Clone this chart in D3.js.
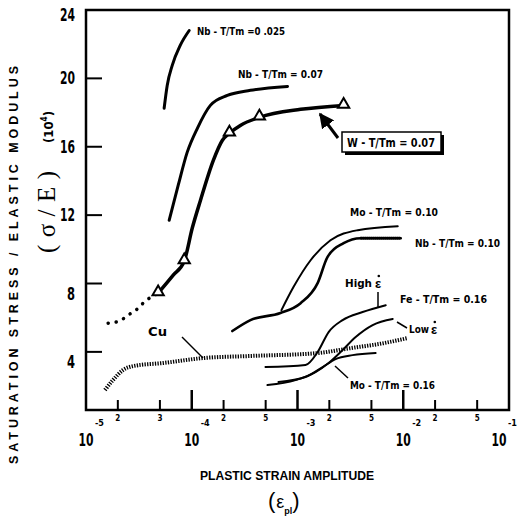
<!DOCTYPE html>
<html><head><meta charset="utf-8">
<script src="https://cdn.jsdelivr.net/npm/d3@7"></script>
<style>body{margin:0;background:#fff} svg{display:block}</style>
</head><body>
<svg id="c" width="517" height="521"></svg>
<script>
// ---- data (x = plastic strain amplitude, y = sigma/E in 1e-4) ----
const nb025 = [[5.48e-5,18.25],[5.86e-5,19.59],[6.54e-5,20.76],[7.78e-5,21.93],[9.46e-5,22.8]];
const nb007 = [[6.12e-5,11.7],[7.45e-5,13.75],[9.05e-5,15.67],[1.13e-4,17.08],[1.5e-4,18.42],[2.17e-4,19.0],[3.59e-4,19.3],[8.04e-4,19.53]];
const wDotted = [[1.62e-5,5.68],[2.06e-5,5.8],[2.5e-5,6.15],[3.04e-5,6.5],[3.55e-5,6.91],[4.81e-5,7.44]];
const w007 = [[4.81e-5,7.44],[6.68e-5,8.49],[8.49e-5,9.31],[1.01e-4,11.23],[1.21e-4,12.87],[1.6e-4,15.2],[1.95e-4,16.38],[2.27e-4,16.79],[2.88e-4,17.25],[4.36e-4,17.72],[1.07e-3,18.19],[2.73e-3,18.42]];
const wMarkers = [[4.81e-5,7.44],[8.49e-5,9.31],[2.27e-4,16.79],[4.36e-4,17.72],[2.73e-3,18.42]];
const mo010 = [[7.05e-4,6.44],[9.16e-4,7.79],[1.33e-3,9.36],[2.05e-3,10.53],[3.71e-3,11.12],[8.87e-3,11.35]];
const nb010 = [[2.42e-4,5.22],[3.59e-4,5.86],[6.9e-4,6.27],[1.07e-3,6.85],[1.55e-3,8.02],[1.92e-3,9.54],[2.73e-3,10.36],[3.95e-3,10.65],[9.47e-3,10.65]];
const feHigh = [[4.98e-4,3.11],[1.19e-3,3.23],[1.55e-3,3.99],[1.97e-3,5.16],[2.67e-3,5.86],[4.13e-3,6.33],[6.83e-3,6.73]];
const feLow = [[5.2e-4,2.06],[9.57e-4,2.35],[1.48e-3,2.82],[1.97e-3,3.35],[2.67e-3,4.11],[3.55e-3,4.87],[5.14e-3,5.57],[7.95e-3,5.92]];
const mo016 = [[6.61e-4,2.24],[1.19e-3,2.53],[1.73e-3,3.11],[2.29e-3,3.58],[3.32e-3,3.81],[5.48e-3,3.93]];
const cu = [[1.51e-5,1.77],[1.8e-5,2.35],[2.24e-5,2.94],[2.79e-5,3.17],[5.37e-5,3.35],[1.29e-4,3.64],[3.59e-4,3.76],[1.55e-3,3.93],[3.18e-3,4.22],[6.53e-3,4.51],[1.1e-2,4.81]];
const yTicks = [4, 8, 12, 16, 20];
const yTickLabels = ["4","8","12","16","20","24"];
const yLabelValues = [4, 8, 12, 16, 20, 24];
const xDecades = [1e-5, 1e-4, 1e-3, 1e-2, 1e-1];
const xDecadeExp = ["-5","-4","-3","-2","-1"];
const xMinor = [2e-5, 5e-5, 2e-4, 5e-4, 2e-3, 5e-3, 2e-2, 5e-2];
const xMinorLabels = ["2","3","2","5","2","5","2","5"];

const svg = d3.select("#c");
const FONT = "'Liberation Sans Narrow','Arial Narrow','DejaVu Sans Condensed','Liberation Sans',sans-serif";
const SANS = "'Liberation Sans',Arial,sans-serif";
const x = d3.scaleLog().domain([1e-5, 1e-1]).range([86, 509]);
const y = d3.scaleLinear().domain([0.6, 24]).range([410, 10]);
const line = d3.line().x(d => x(d[0])).y(d => y(d[1])).curve(d3.curveMonotoneX);

// frame
svg.append("rect").attr("x", x.range()[0]).attr("y", y.range()[1])
  .attr("width", x.range()[1]-x.range()[0]).attr("height", y.range()[0]-y.range()[1])
  .attr("fill","none").attr("stroke","#000").attr("stroke-width",2.5);

// y ticks
svg.selectAll(".yt").data(yTicks).enter().append("line")
  .attr("x1", x.range()[0]).attr("x2", x.range()[0]+16)
  .attr("y1", d=>y(d)).attr("y2", d=>y(d)).attr("stroke","#000").attr("stroke-width",2);
svg.selectAll(".yl").data(yLabelValues).enter().append("text")
  .attr("x", 75).attr("y", d => y(d) + (d < 10 ? 16 : 6) + (d===24 ? 5 : 0))
  .attr("text-anchor","end").attr("font-family",FONT).attr("font-weight","bold")
  .attr("font-size",18).text((d,i)=>yTickLabels[i])
  .attr("textLength", (d,i)=> yTickLabels[i].length===2 ? 15 : 8).attr("lengthAdjust","spacingAndGlyphs");

// x ticks
svg.selectAll(".xM").data(xDecades.slice(1,4)).enter().append("line")
  .attr("x1", d=>x(d)).attr("x2", d=>x(d)).attr("y1", y.range()[0]).attr("y2", y.range()[0]-20)
  .attr("stroke","#000").attr("stroke-width",2.5);
svg.selectAll(".xm").data(xMinor).enter().append("line")
  .attr("x1", d=>x(d)).attr("x2", d=>x(d)).attr("y1", y.range()[0]).attr("y2", y.range()[0]-10)
  .attr("stroke","#000").attr("stroke-width",2);
svg.selectAll(".xml").data(xMinor).enter().append("text")
  .attr("x", d=>x(d)).attr("y", y.range()[0]+11).attr("text-anchor","middle")
  .attr("font-family",FONT).attr("font-weight","bold").attr("font-size",8)
  .text((d,i)=>xMinorLabels[i]);
svg.selectAll(".xd").data(xDecades).enter().append("text")
  .attr("x", (d,i)=> Math.min(x(d), 499)).attr("y", y.range()[0]+36).attr("text-anchor","middle")
  .attr("font-family",FONT).attr("font-weight","bold").attr("font-size",18)
  .attr("textLength",15).attr("lengthAdjust","spacingAndGlyphs").text("10");
svg.selectAll(".xe").data(xDecades).enter().append("text")
  .attr("x", (d,i)=> Math.min(x(d), 499)+9).attr("y", y.range()[0]+16)
  .attr("font-family",FONT).attr("font-weight","bold").attr("font-size",9)
  .text((d,i)=>xDecadeExp[i]);

// axis titles
svg.append("text").attr("transform","translate(18,265) rotate(-90)")
  .attr("text-anchor","middle").attr("font-family",SANS)
  .attr("font-weight","bold").attr("font-size",12.5).attr("textLength",398).attr("lengthAdjust","spacing")
  .text("SATURATION STRESS / ELASTIC MODULUS");
svg.append("text").attr("transform","translate(55,212) rotate(-90)")
  .attr("text-anchor","middle").attr("font-family","'Liberation Serif','DejaVu Serif',serif")
  .attr("font-size",25).attr("textLength",82).attr("lengthAdjust","spacing")
  .text("(σ/E)");
const t104 = svg.append("text").attr("transform","translate(53,127) rotate(-90)")
  .attr("text-anchor","middle").attr("font-family",FONT).attr("font-weight","bold").attr("font-size",13);
t104.append("tspan").text("(10");
t104.append("tspan").text("4").attr("font-size",8).attr("dy",-6);
t104.append("tspan").text(")").attr("dy",6);

svg.append("text").attr("x",287).attr("y",480).attr("text-anchor","middle")
  .attr("font-family",SANS).attr("font-weight","bold").attr("font-size",12)
  .attr("textLength",174).attr("lengthAdjust","spacingAndGlyphs").text("PLASTIC STRAIN AMPLITUDE");
const ep = svg.append("text").attr("x",268).attr("y",508)
  .attr("font-family",SANS).attr("font-size",22);
ep.append("tspan").text("(");
ep.append("tspan").text("ε").attr("font-size",18).attr("dx",1);
ep.append("tspan").text("pl").attr("font-size",9).attr("font-weight","bold").attr("dy",6);
ep.append("tspan").text(")").attr("dy",-6);

// curves
function curve(data, w, dash) {
  const p = svg.append("path").datum(data).attr("d", line).attr("fill","none")
    .attr("stroke","#000").attr("stroke-width", w).attr("stroke-linecap","round");
  if (dash) p.attr("stroke-dasharray", dash).attr("stroke-linecap","butt");
  return p;
}
curve(nb025, 3);
curve(nb007, 3);
curve(wDotted, 3.5, "0.1,8").attr("stroke-linecap","round");
curve(w007, 3.5);
curve(mo010, 2);
curve(nb010, 2.6);
curve(nb010.slice(-2), 3.5, "1,1");
curve(feHigh, 2);
curve(feLow, 2);
curve(mo016, 2);
curve(cu, 4, "1.3,1.3");

// triangles
svg.selectAll(".tri").data(wMarkers).enter().append("path")
  .attr("d", d3.symbol().type(d3.symbolTriangle).size(55))
  .attr("transform", d=>`translate(${x(d[0])},${y(d[1])-1})`)
  .attr("fill","#fff").attr("stroke","#000").attr("stroke-width",2);

// annotations
function label(t, x0, y0, len, size) {
  const e = svg.append("text").attr("x",x0).attr("y",y0).attr("font-family",FONT)
    .attr("font-weight","bold").attr("font-size",size||10).text(t);
  if (len) e.attr("textLength",len).attr("lengthAdjust","spacingAndGlyphs");
  return e;
}
function epsDot(x0, y0) {
  svg.append("text").attr("x",x0).attr("y",y0).attr("font-family",SANS).attr("font-weight","bold").attr("font-size",13).text("ε");
  svg.append("circle").attr("cx",x0+3.8).attr("cy",y0-12).attr("r",1.3).attr("fill","#000");
}
label("Nb - T/Tm =0 .025", 197, 35, 88);
label("Nb - T/Tm = 0.07", 238, 78, 85);
label("Mo - T/Tm = 0.10", 350, 216, 88);
label("Nb - T/Tm = 0.10", 415, 247, 85);
label("Fe - T/Tm = 0.16", 400, 303, 87);
label("Mo - T/Tm = 0.16", 350, 389, 85);
label("Cu", 148, 336, 19, 13);
label("High", 345, 287, 27, 11); epsDot(375, 288);
label("Low", 409, 333, 20, 11); epsDot(431, 334);

// leaders
const L = (x1,y1,x2,y2,w)=>svg.append("line").attr("x1",x1).attr("y1",y1).attr("x2",x2).attr("y2",y2).attr("stroke","#000").attr("stroke-width",w||1.5);
L(182,337,203,358);
L(378,292,378,307);
L(397,322,407,328);
L(335,366,348,378);

// W label box + arrow
svg.append("rect").attr("x",345).attr("y",135).attr("width",99).attr("height",20).attr("fill","#000");
svg.append("rect").attr("x",342).attr("y",132).attr("width",99).attr("height",20).attr("fill","#fff").attr("stroke","#000").attr("stroke-width",1.5);
label("W - T/Tm = 0.07", 347, 147, 88, 13);
svg.append("defs").append("marker").attr("id","ah").attr("viewBox","0 0 10 10").attr("refX",9).attr("refY",5)
  .attr("markerWidth",5).attr("markerHeight",5).attr("orient","auto")
  .append("path").attr("d","M0,0 L10,5 L0,10 z").attr("fill","#000");
L(338,138,320,114,3).attr("marker-end","url(#ah)");
</script>
</body></html>
